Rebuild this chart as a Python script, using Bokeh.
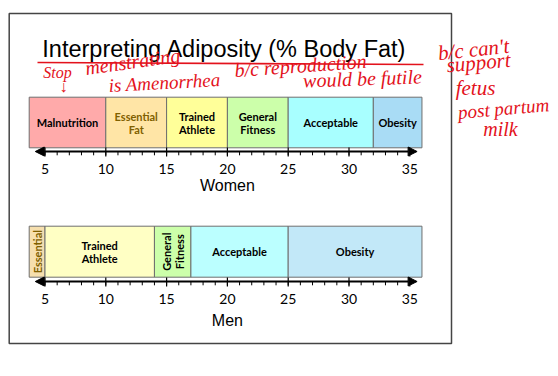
from bokeh.plotting import figure
from bokeh.models import Range1d, Arrow, NormalHead, ColumnDataSource
from bokeh.embed import file_html
from bokeh.resources import INLINE
from bokeh.core.properties import value
import math

# ---------------- data ----------------
title_text = "Interpreting Adiposity (% Body Fat)"

women_labels = ["Malnutrition", "Essential\nFat", "Trained\nAthlete", "General\nFitness", "Acceptable", "Obesity"]
women_start = [3.7, 10, 15, 20, 25, 32]
women_end = [10, 15, 20, 25, 32, 36]
women_colors = ["#FFAAAA", "#FFE5A6", "#FFFF99", "#CCFFAA", "#A8FFFF", "#A9DCF5"]
women_text_colors = ["#000000", "#7F6000", "#000000", "#000000", "#000000", "#000000"]
women_angles = [0, 0, 0, 0, 0, 0]

men_labels = ["Essential", "Trained\nAthlete", "General\nFitness", "Acceptable", "Obesity"]
men_start = [3.7, 5, 14, 17, 25]
men_end = [5, 14, 17, 25, 36]
men_colors = ["#F6DFAE", "#FFFFC4", "#CCFFAA", "#BBFFFF", "#C2E8F8"]
men_text_colors = ["#7F6000", "#000000", "#000000", "#000000", "#000000"]
men_angles = [90, 0, 90, 0, 0]

tick_values = [5, 10, 15, 20, 25, 30, 35]
tick_labels = ["5", "10", "15", "20", "25", "30", "35"]
minor_values = list(range(5, 35))
axis_start, axis_end = 4.2, 35.6
axis_titles = ["Women", "Men"]

notes = ["Stop", "menstrating", "\u2193", "is Amenorrhea", "b/c reproduction",
         "would be futile", "b/c can't", "support", "fetus", "post partum", "milk"]

# ---------------- layout ----------------
S = 12.16                       # px per % body fat
W, H = 550, 360
X0 = 5 - 44.5 / S


def PX(px):
    return X0 + px / S


def PY(py):
    return py


p = figure(width=W, height=H, x_range=Range1d(X0, X0 + W / S), y_range=Range1d(H, 0),
           output_backend="svg", toolbar_location=None,
           x_axis_type=None, y_axis_type=None, min_border=0)
p.outline_line_color = None
p.background_fill_color = "white"

# outer frame
p.quad(left=[PX(8.7)], right=[PX(451)], top=[PY(13)], bottom=[PY(343)],
       fill_color=None, line_color="#444444", line_width=1.5)

# title
p.text(x=[PX(224)], y=[PY(48.5)], text=[title_text], text_font=value("Liberation Sans"),
       text_font_size="23.5px", text_align="center", text_baseline="alphabetic", text_color="black")


def band(starts, ends, colors, labels, tcolors, angles, top, bottom, line_y, lab_y, title, title_y):
    src = ColumnDataSource(dict(left=starts, right=ends, color=colors, label=labels, tc=tcolors,
                                ang=[math.radians(a) for a in angles],
                                mid=[(a + b) / 2 for a, b in zip(starts, ends)]))
    p.quad(left="left", right="right", top=PY(top), bottom=PY(bottom), fill_color="color",
           line_color="#6E6E6E", line_width=1, source=src)
    p.text(x="mid", y=PY((top + bottom) / 2), text="label", angle="ang", text_color="tc",
           text_font=value("Lato"), text_font_style="bold", text_font_size="11px",
           text_align="center", text_baseline="middle", text_line_height=1.0, source=src)
    # axis arrow
    p.add_layout(Arrow(x_start=axis_start, x_end=axis_end, y_start=PY(line_y), y_end=PY(line_y),
                       start=NormalHead(size=9, fill_color="black", line_color="black"),
                       end=NormalHead(size=9, fill_color="black", line_color="black"),
                       line_color="black", line_width=2))
    # minor ticks
    p.segment(x0=minor_values, x1=minor_values, y0=[PY(line_y)] * len(minor_values),
              y1=[PY(line_y + 3.8)] * len(minor_values), line_color="black", line_width=1)
    # major ticks
    p.segment(x0=tick_values, x1=tick_values, y0=[PY(line_y - 4)] * len(tick_values),
              y1=[PY(line_y + 5)] * len(tick_values), line_color="black", line_width=1.2)
    p.text(x=tick_values, y=[PY(lab_y)] * len(tick_values), text=tick_labels,
           text_font=value("Lato"), text_font_size="14px", text_align="center",
           text_baseline="middle", text_color="black")
    p.text(x=[20], y=[PY(title_y)], text=[title], text_font=value("Liberation Sans"),
           text_font_size="16px", text_align="center", text_baseline="middle", text_color="black")


band(women_start, women_end, women_colors, women_labels, women_text_colors, women_angles,
     96.7, 147.3, 151, 168, axis_titles[0], 185)
band(men_start, men_end, men_colors, men_labels, men_text_colors, men_angles,
     225.7, 276.7, 281, 298.5, axis_titles[1], 320)

# handwritten notes (red)
red = "#E3121C"
p.line(x=[PX(37), PX(423)], y=[PY(62), PY(64)], line_color=red, line_width=1.6)
note_px = [57, 132, 63, 164, 300, 362, 473, 478, 475, 503, 500]
note_py = [72, 61, 86, 82, 65, 78, 49, 62, 87, 108, 128]
note_size = ["16px", "20px", "16px", "19px", "20px", "20px", "21px", "21px", "21px", "19px", "20px"]
note_ang = [0, 8, 0, 3, 4, 2, 6, 5, 0, 5, 0]
p.text(x=[PX(v) for v in note_px], y=[PY(v) for v in note_py], text=notes,
       angle=[math.radians(a) for a in note_ang], text_font=value("Liberation Serif"),
       text_font_style="italic", text_font_size=note_size, text_color=red,
       text_align="center", text_baseline="middle")

open("out.html", "w").write(file_html(p, INLINE))
